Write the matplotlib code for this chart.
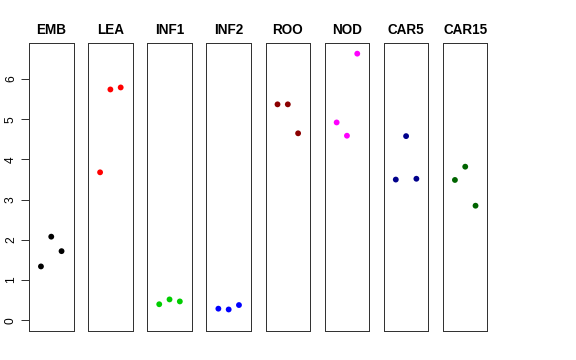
import numpy as np
import matplotlib
matplotlib.use('Agg')
import matplotlib.pyplot as plt

plt.rcParams['font.family'] = ['Liberation Sans', 'DejaVu Sans']

## tissues and their three replicate values
tissues = ['EMB', 'LEA', 'INF1', 'INF2', 'ROO', 'NOD', 'CAR5', 'CAR15']
cols = ['black', 'red', '#00CD00', 'blue', '#8B0000', 'magenta', '#00008B', '#006400']
rep_x = [1, 2, 3]
vals = {
    'EMB':   [1.34, 2.08, 1.72],
    'LEA':   [3.68, 5.74, 5.79],
    'INF1':  [0.40, 0.52, 0.47],
    'INF2':  [0.29, 0.27, 0.38],
    'ROO':   [5.37, 5.37, 4.65],
    'NOD':   [4.92, 4.59, 6.63],
    'CAR5':  [3.50, 4.58, 3.52],
    'CAR15': [3.49, 3.82, 2.85],
}
yticks = [0, 1, 2, 3, 4, 5, 6]

W, H = 576.0, 360.0
fig = plt.figure(figsize=(8, 5), dpi=72)

ymax = max(max(v) for v in vals.values())
ext = 0.04 * ymax

for i, t in enumerate(tissues):
    left = 29 + i * 59.14
    ax = fig.add_axes([left / W, 1 - 331 / H, 44.5 / W, 288 / H])
    ax.scatter(rep_x, vals[t], s=34, color=cols[i], edgecolors='none', zorder=3)
    ax.set_xlim(-0.16, 4.16)
    ax.set_ylim(-ext, ymax + ext)
    ax.set_xticks([])
    ax.set_title(t, fontsize=13.5, fontweight='bold', pad=9)
    for sp in ax.spines.values():
        sp.set_color('#333333')
        sp.set_linewidth(1.0)
    if i == 0:
        ax.set_yticks(yticks)
        ax.tick_params(axis='y', length=8, width=1, color='#333333', pad=4, labelsize=12)
        for lab in ax.get_yticklabels():
            lab.set_rotation(90)
            lab.set_va('center')
    else:
        ax.set_yticks([])

fig.savefig('out.png', dpi=72, facecolor='white')
